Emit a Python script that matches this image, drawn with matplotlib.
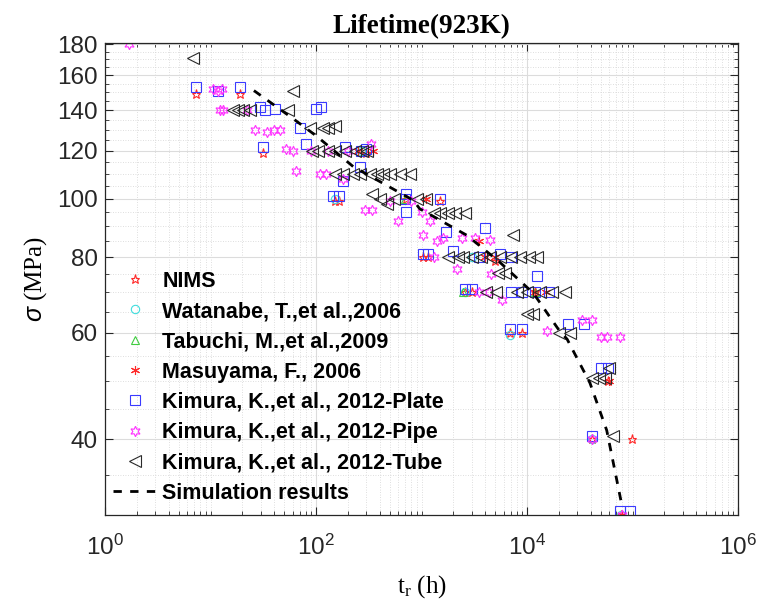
import matplotlib
matplotlib.use("Agg")
import matplotlib.pyplot as plt
from matplotlib.ticker import FixedLocator, NullFormatter, LogLocator, FixedFormatter
import numpy as np

# ---------------- data (t_r in h, sigma in MPa) ----------------
nims_t = [7.3, 19, 31.5, 150, 164, 720, 300, 1500, 1040, 1150, 5000, 2600, 3000, 12000,
          6900, 8900, 59000, 41000, 99000, 78000]
nims_s = [149, 149, 119, 99, 99, 100, 119, 99, 80, 80, 79, 70, 70, 70,
          60, 60, 50, 40, 40, 30]

wat_t = [150, 265, 2600, 3000, 6900, 41000, 78000]
wat_s = [100, 120, 70, 80, 59.5, 40, 30]

tab_t = [700, 2500, 12000]
tab_s = [100, 70, 70]

mas_t = [350, 250, 1100, 3500, 4000, 5000, 12000, 15000, 60000, 80000]
mas_s = [120, 120, 100, 85, 80, 80, 70, 70, 50, 30]

plate_t = [7.3, 11.8, 19, 29.5, 32.8, 40.9, 101, 111, 70.5, 31.5, 80, 190, 265, 300,
           261, 181, 146, 164, 720, 700, 1500, 720, 1700, 4000, 1040, 1150, 2000, 3500,
           5500, 7000, 12400, 2600, 3000, 7000, 9000, 12000, 16000, 6900, 8900, 24600,
           34500, 50000, 59000, 41000, 76000, 94000]
plate_s = [153, 151, 153, 142, 140, 141, 141, 142, 131, 122, 123, 122, 120, 121,
           113, 107, 101, 101, 102, 100, 100, 95, 88, 89.6, 81, 81, 82, 80,
           81, 80, 74.6, 71, 71, 70, 70, 70, 70, 61, 61, 62,
           62, 52.5, 52.5, 40.5, 30.5, 30.5]

pipe_t = [1.69, 10.6, 11.9, 12.8, 12.3, 13.1, 22, 26.4, 34.5, 40, 45.6, 52.5, 61, 90,
          130, 200, 335, 65, 109, 125, 180, 290, 343, 500, 800, 1000, 1200, 600, 1040,
          1400, 1600, 2400, 3200, 4500, 2160, 4600, 1300, 3500, 4400, 5800, 15500, 33000,
          41000, 50000, 57000, 76000, 41000, 80000]
pipe_s = [180, 152, 151, 152, 140, 140, 140, 130, 129, 130, 130, 121, 120, 120,
          120, 120, 123, 111, 110, 110, 108, 96, 96, 99, 99, 95, 92, 92, 87,
          85, 86, 86, 86, 85.5, 76.5, 75, 80, 70, 70, 68, 60.5, 63,
          63, 59, 59, 59, 40, 30]

tube_t = [6.9, 61, 16.4, 18.4, 20.5, 23.7, 54.7, 88, 117, 131, 150, 91, 105, 131, 150,
          188, 233, 272, 302, 150, 181, 225, 261, 325, 375, 435, 505, 625, 780, 340, 400,
          470, 550, 900, 1100, 1300, 1500, 1800, 2100, 2600, 7400, 1800, 2200, 2500,
          3000, 3700, 4500, 5500, 7000, 8500, 10500, 12500, 5300, 6200, 4100, 5100, 8000,
          10000, 13300, 17300, 23000, 9900, 11500, 20300, 25500, 41000, 48000, 55000,
          60000, 65000]
tube_s = [171, 151, 140, 140, 140, 140, 140, 131, 131, 131, 132, 120, 120, 120, 120,
          120, 120, 120, 120, 110, 110, 110, 110, 110, 110, 110, 110, 110, 110, 102, 100,
          98, 100, 100, 100, 94.7, 94.7, 94.7, 94.7, 94.7, 87, 80, 80, 80,
          80, 80, 80, 80, 80, 80, 80, 80, 75.5, 75.5, 70, 70, 70,
          70, 70, 70, 70, 64.5, 64.5, 60, 60, 50.6, 50.6, 50.6,
          52.5, 40.5]

sim_t = [25.8, 61, 101, 226, 840, 960, 2700, 5500, 11500, 20300, 24000, 39500, 57000, 80000]
sim_s = [151, 135.6, 127, 113, 99.4, 96.3, 87, 78.6, 69.8, 60.5, 58.6, 49.6, 41.4, 30.9]

x_ticks = [1, 1e2, 1e4, 1e6]
y_ticks = [40, 60, 80, 100, 120, 140, 160, 180]
y_minor = list(range(30, 185, 5))

# ---------------- figure ----------------
plt.rcParams['mathtext.fontset'] = 'custom'
plt.rcParams['mathtext.rm'] = 'Liberation Sans'
plt.rcParams['mathtext.it'] = 'Liberation Sans:italic'
plt.rcParams['mathtext.bf'] = 'Liberation Sans:bold'

fig = plt.figure(figsize=(7.73, 6.03), dpi=100)
ax = fig.add_axes([105/773, 88/603, 633/773, 472/603])
ax.set_xscale('log')
ax.set_yscale('log')

ms_kw = dict(linestyle='none', mfc='none')
ax.plot(nims_t, nims_s, marker='*', mec='#ff2a2a', ms=6.5, mew=0.8, label='NIMS', **ms_kw)
ax.plot(wat_t, wat_s, marker='o', mec='#40dede', ms=6, mew=0.8, label='Watanabe, T.,et al.,2006', **ms_kw)
ax.plot(tab_t, tab_s, marker='^', mec='#40cc40', ms=6, mew=0.8, label='Tabuchi, M.,et al.,2009', **ms_kw)
ax.plot(mas_t, mas_s, marker=(6, 2, 0), mec='#ff2a2a', ms=6.5, mew=0.8, label='Masuyama, F., 2006', **ms_kw)
ax.plot(plate_t, plate_s, marker='s', mec='#3a3aff', ms=7, mew=0.8, label='Kimura, K.,et al., 2012-Plate', **ms_kw)
ax.plot(pipe_t, pipe_s, marker=(6, 1, 0), mec='#ff30ff', ms=7.5, mew=0.8, label='Kimura, K.,et al., 2012-Pipe', **ms_kw)
ax.plot(tube_t, tube_s, marker='<', mec='#2a2a2a', ms=8.5, mew=0.8, label='Kimura, K.,et al., 2012-Tube', **ms_kw)
ax.plot(sim_t, sim_s, linestyle=(0, (3, 3)), color='black', lw=2.0, label='Simulation results')

ax.set_xlim(1, 1e6)
ax.set_ylim(30, 181)

ax.xaxis.set_major_locator(FixedLocator(x_ticks))
ax.xaxis.set_minor_locator(LogLocator(base=10, subs=np.arange(1, 10), numticks=20))
ax.xaxis.set_minor_formatter(NullFormatter())
ax.yaxis.set_major_locator(FixedLocator(y_ticks))
ax.yaxis.set_major_formatter(FixedFormatter([str(v) for v in y_ticks]))
ax.yaxis.set_minor_locator(FixedLocator(y_minor))
ax.yaxis.set_minor_formatter(NullFormatter())

ax.tick_params(which='both', direction='in', top=True, right=True, colors='#262626',
               labelcolor='#262626')
ax.tick_params(which='major', length=6, width=0.8, labelsize=17.5)
ax.tick_params(which='minor', length=3, width=0.6)
ax.tick_params(axis='x', which='major', pad=14)
ax.tick_params(axis='y', which='major', pad=5)
for lab in ax.get_xticklabels() + ax.get_yticklabels():
    lab.set_fontfamily('Liberation Sans')

ax.grid(True, which='major', color='#dcdcdc', linestyle='-', linewidth=0.8)
ax.grid(True, which='minor', color='#d4d4d4', linestyle=(0, (1, 2)), linewidth=0.6)
ax.set_axisbelow(True)
for sp in ax.spines.values():
    sp.set_color('#262626')
    sp.set_linewidth(0.9)

ax.set_title('Lifetime(923K)', fontfamily='Liberation Serif', fontweight='bold',
             fontsize=19.5, pad=7)
ax.set_xlabel(r'$\mathregular{t_r}$ (h)', fontfamily='Liberation Serif', fontsize=18,
              labelpad=10)
ax.set_ylabel(r'$\sigma$ (MPa)', fontfamily='Liberation Serif', fontsize=18, labelpad=6)

leg = ax.legend(loc='upper left', bbox_to_anchor=(102/773, 1 - 260/603),
                bbox_transform=fig.transFigure, frameon=False, borderpad=0,
                handlelength=2.1, handletextpad=0.2, labelspacing=0.43,
                prop={'family': 'Liberation Sans', 'weight': 'bold', 'size': 15.5})

fig.savefig('out.png', dpi=100)
